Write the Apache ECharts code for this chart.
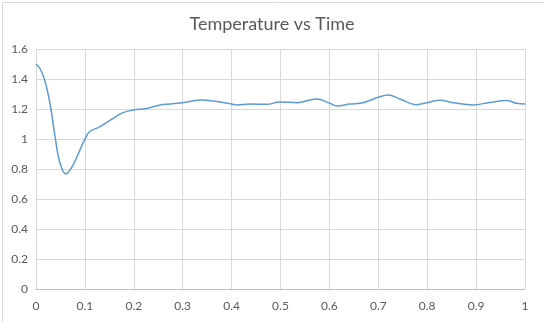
<!DOCTYPE html>
<html>
<head>
<meta charset="utf-8">
<script src="https://cdn.jsdelivr.net/npm/echarts@6/dist/echarts.min.js"></script>
<style>
html,body{margin:0;padding:0;background:#fff;}
#c{width:544px;height:322px;}
</style>
</head>
<body>
<div id="c"></div>
<script>
var titleText = "Temperature vs Time";
var times = [0, 0.008, 0.018, 0.029, 0.039, 0.049, 0.061, 0.073, 0.087, 0.099, 0.11, 0.131, 0.158, 0.178, 0.199, 0.226, 0.254, 0.274, 0.299, 0.339, 0.362, 0.4, 0.41, 0.438, 0.472, 0.499, 0.533, 0.574, 0.601, 0.615, 0.642, 0.669, 0.7, 0.72, 0.744, 0.778, 0.8, 0.826, 0.853, 0.894, 0.928, 0.962, 0.983, 1];
var temps = [1.5, 1.47, 1.39, 1.23, 1.015, 0.84, 0.767, 0.81, 0.905, 0.993, 1.05, 1.082, 1.138, 1.176, 1.193, 1.204, 1.227, 1.233, 1.242, 1.26, 1.253, 1.233, 1.227, 1.233, 1.231, 1.247, 1.242, 1.267, 1.238, 1.22, 1.233, 1.242, 1.278, 1.293, 1.267, 1.229, 1.242, 1.258, 1.242, 1.227, 1.244, 1.256, 1.238, 1.233];

var data = times.map(function (t, i) { return [t, temps[i]]; });
var chart = echarts.init(document.getElementById('c'), null, {renderer: 'canvas'});
var font = 'Lato, "Open Sans", sans-serif';
chart.setOption({
  animation: false,
  backgroundColor: '#fff',
  graphic: [{
    type: 'rect', left: 0, top: 0,
    shape: {x: 0.5, y: 0.5, width: 543, height: 321},
    style: {fill: 'none', stroke: '#d9d9d9', lineWidth: 1}
  }],
  title: {
    text: titleText, left: 'center', top: 10,
    textStyle: {fontFamily: font, fontSize: 18, fontWeight: 'normal', color: '#595959'}
  },
  grid: {left: 36, right: 19, top: 49, bottom: 33, containLabel: false},
  xAxis: {
    type: 'value', min: 0, max: 1, interval: 0.1,
    axisLine: {show: true, lineStyle: {color: '#bfbfbf', width: 1}},
    axisTick: {show: false},
    splitLine: {show: true, lineStyle: {color: '#d9d9d9', width: 1}},
    axisLabel: {color: '#595959', fontFamily: font, fontSize: 12, margin: 11}
  },
  yAxis: {
    type: 'value', min: 0, max: 1.6, interval: 0.2,
    axisLine: {show: false},
    axisTick: {show: false},
    splitLine: {show: true, lineStyle: {color: '#d9d9d9', width: 1}},
    axisLabel: {color: '#595959', fontFamily: font, fontSize: 12, margin: 8}
  },
  series: [{
    type: 'line', data: data, smooth: 0.4, showSymbol: false,
    lineStyle: {color: '#5b9bd5', width: 1.5}
  }]
});
</script>
</body>
</html>
